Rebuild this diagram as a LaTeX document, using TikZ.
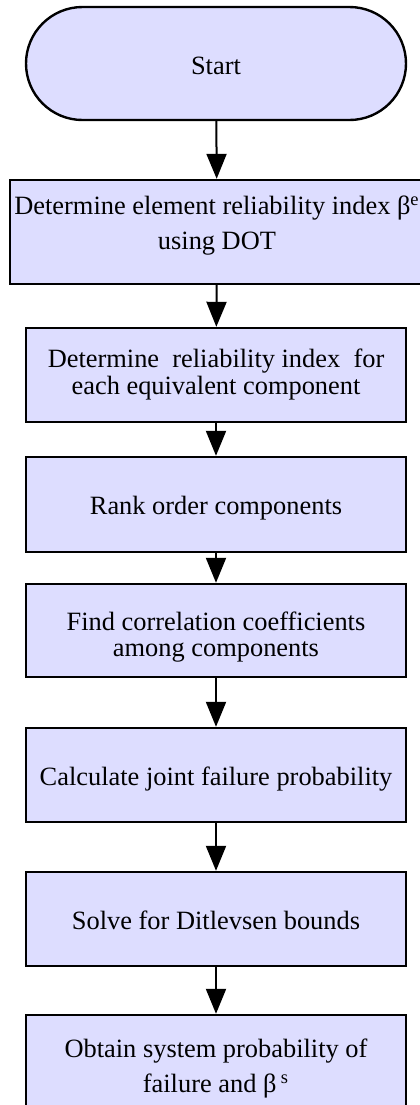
\documentclass[tikz,border=0pt]{standalone}
\usepackage{fontspec}
\setmainfont{Liberation Serif}
\usetikzlibrary{shapes.misc,arrows.meta}
\definecolor{boxfill}{RGB}{221,221,255}
\newcommand{\boxtext}[3]{\fontsize{13.2}{#2}\selectfont\raisebox{\dimexpr#1-3.3pt\relax}[0pt][0pt]{\begin{tabular}{@{}c@{}}#3\end{tabular}}}
\tikzset{
  flowbox/.style={draw=black, line width=1.2pt, fill=boxfill, minimum width=190pt,
    minimum height=47pt, inner sep=0pt},
  terminal/.style={flowbox, rounded rectangle, minimum height=56.5pt},
  flowarrow/.style={line width=1pt, -{Triangle[length=12.5pt,width=10pt]}}
}
\begin{document}
\begin{tikzpicture}[x=0.5pt,y=-0.5pt]
\useasboundingbox (0,0) rectangle (419,1105);
\node[terminal] (start) at (216,63.5) {\boxtext{-1.75pt}{16pt}{Start}};
\node[flowbox, minimum width=207pt, minimum height=52pt] (b1) at (217,232)
  {\boxtext{3.75pt}{17.5pt}{Determine element reliability index β\textsuperscript{e}\\using DOT}};
\node[flowbox] (b2) at (216,375)
  {\boxtext{0pt}{13.5pt}{Determine\ \ reliability index\ \ for\\each equivalent component}};
\node[flowbox, minimum height=47.5pt] (b3) at (216,504.5) {\boxtext{-1.25pt}{16pt}{Rank order components}};
\node[flowbox, minimum height=46.5pt] (b4) at (216,630.5)
  {\boxtext{-3.25pt}{13pt}{Find correlation coefficients\\among components}};
\node[flowbox] (b5) at (216,775) {\boxtext{-1.5pt}{16pt}{Calculate joint failure probability}};
\node[flowbox] (b6) at (216,919) {\boxtext{-1.5pt}{16pt}{Solve for Ditlevsen bounds}};
\node[flowbox] (b7) at (216,1062)
  {\boxtext{-2.75pt}{17.5pt}{Obtain system probability of\\failure and β\,\textsuperscript{s}}};
\draw[flowarrow] (start) -- (b1);
\draw[flowarrow] (b1) -- (b2);
\draw[flowarrow] (b2) -- (b3);
\draw[flowarrow] (b3) -- (b4);
\draw[flowarrow] (b4) -- (b5);
\draw[flowarrow] (b5) -- (b6);
\draw[flowarrow] (b6) -- (b7);
\end{tikzpicture}
\end{document}
